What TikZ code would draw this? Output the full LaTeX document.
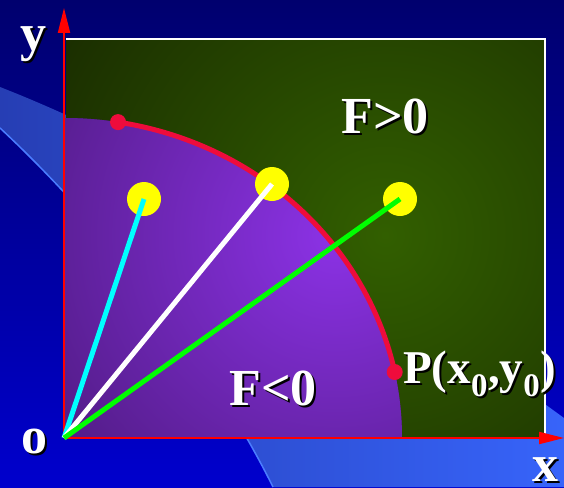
\documentclass[tikz,border=0pt]{standalone}
\usepackage{fontspec}
\setmainfont{Liberation Serif}
\usetikzlibrary{arrows.meta, positioning}

\definecolor{navytop}{RGB}{0,0,110}
\definecolor{navybot}{RGB}{0,0,205}
\definecolor{bandleft}{RGB}{38,62,180}
\definecolor{bandright}{RGB}{55,100,250}
\definecolor{bandedge}{RGB}{75,125,255}
\definecolor{greenin}{RGB}{50,95,0}
\definecolor{greenout}{RGB}{27,47,0}
\definecolor{purpin}{RGB}{140,50,230}
\definecolor{purpout}{RGB}{72,24,118}
\definecolor{curvered}{RGB}{238,12,60}
\definecolor{axisred}{RGB}{255,0,0}
\definecolor{dotyellow}{RGB}{255,255,0}
\definecolor{raycyan}{RGB}{0,255,255}
\definecolor{raygreen}{RGB}{0,255,0}

\newcommand{\shtxt}[1]{\rlap{\kern2pt\raisebox{-2pt}{\color{black}#1}}#1}

\begin{document}
\begin{tikzpicture}[
    x=1pt, y=-1pt,
    lbl/.style={text=white, font=\bfseries\fontsize{52}{52}\selectfont, inner sep=0pt, anchor=base},
    axis/.style={axisred, line width=2pt, -{Triangle[length=25pt, width=12pt]}},
    ydot/.style={circle, fill=dotyellow, minimum size=34pt, inner sep=0pt},
    rdot/.style={circle, fill=curvered, minimum size=16pt, inner sep=0pt},
    ray/.style={line width=5pt}
]

\useasboundingbox (0,0) rectangle (564,487);
\coordinate (O) at (64,438);
\coordinate (ytip) at (64,8);
\coordinate (xtip) at (564,438);

% background and swoosh
\shade[top color=navytop, bottom color=navybot] (0,0) rectangle (564,487);
\shade[left color=bandleft, right color=bandright]
    (0,87) .. controls (200,165) and (430,320) .. (564,418) -- (564,487) -- (273,487)
    .. controls (220,380) and (120,240) .. (0,128) -- cycle;
\draw[bandedge, line width=1.5pt] (0,128) .. controls (120,240) and (220,380) .. (273,487);

% region F>0
\begin{scope}
\clip (66,39) rectangle (545,438);
\fill[greenout] (66,39) rectangle (545,438);
\shade[inner color=greenin, outer color=greenout] (385,235) circle (370pt);
\end{scope}
\draw[white, line width=1.5pt] (66,39) -- (545,39) -- (545,438);

% region F<0
\begin{scope}
\clip (O) -- ++(338pt,0) arc[start angle=0, end angle=90, x radius=338pt, y radius=320pt] -- cycle;
\fill[purpout] (0,0) rectangle (564,487);
\shade[inner color=purpin, outer color=purpout] (335,235) circle (400pt);
\end{scope}

% axes
\draw[axis] (O) -- (ytip);
\draw[axis] (O) -- (xtip);

% curve F=0
\node[rdot] (Q) at ([shift={(80.8:338pt and 320pt)}]O) {};
\node[rdot] (P) at ([shift={(11.9:338pt and 320pt)}]O) {};
\draw[curvered, line width=5pt] (Q.center) arc[start angle=80.8, end angle=11.9, x radius=338pt, y radius=320pt];

% test points
\node[ydot] (d1) at (144,199) {};
\node[ydot] (d2) at (272,184) {};
\node[ydot] (d3) at (400,199) {};
\draw[ray, raycyan] (O) -- (d1.center);
\draw[ray, white] (O) -- (d2.center);
\draw[ray, raygreen] (O) -- (d3.center);

% labels
\node[lbl] (ylab) at (33,50) {\shtxt{y}};
\node[lbl] (olab) at (34,453) {\shtxt{o}};
\node[lbl] (xlab) at (545,481) {\shtxt{x}};
\node[lbl] (Fpos) at (385,133) {\shtxt{F>0}};
\node[lbl] (Fneg) at (273,405) {\shtxt{F<0}};
\node[lbl, anchor=base west, font=\bfseries\fontsize{47}{47}\selectfont] (Plab) at (403,383)
    {\shtxt{P(x\textsubscript{0},y\textsubscript{0})}};
\end{tikzpicture}
\end{document}
